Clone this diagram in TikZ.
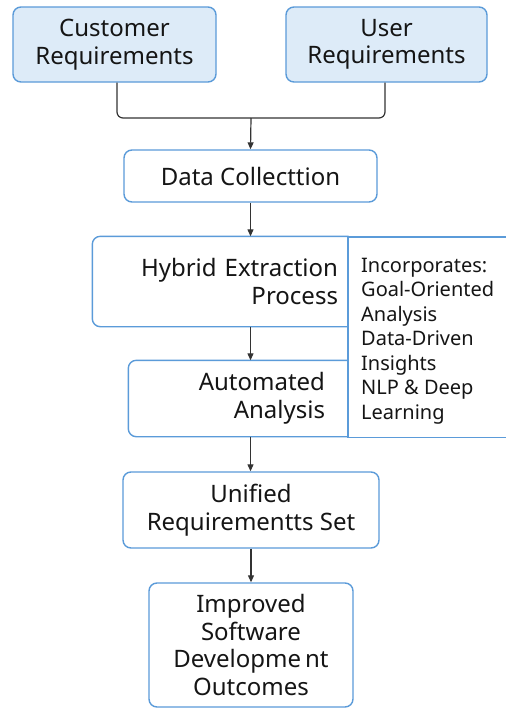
\documentclass[tikz,border=0pt]{standalone}
\usepackage{fontspec}
\setmainfont{Noto Sans}
\usetikzlibrary{arrows.meta}
\definecolor{boxblue}{HTML}{5B9BD9}
\definecolor{boxfill}{HTML}{DDEBF8}
\definecolor{txt}{HTML}{151515}
\definecolor{conn}{HTML}{333333}
\tikzset{
  box/.style={draw=boxblue, line width=1.4pt, rounded corners=8pt, fill=white,
    text=txt, align=center, inner sep=0pt,
    font=\fontsize{24}{27.5}\selectfont},
  topbox/.style={box, fill=boxfill},
  link/.style={draw=conn, line width=1.2pt},
  arrowlink/.style={link, -{Triangle[length=7pt,width=6pt]}},
}
\begin{document}
\begin{tikzpicture}[x=1pt,y=-1pt]
\useasboundingbox (0,0) rectangle (506,710);
\fill[white] (0,0) rectangle (506,710);
% top boxes
\node[topbox, minimum width=203pt, minimum height=75pt] (cust) at (114.5,44.5) {Customer\\Requirements};
\node[topbox, minimum width=201pt, minimum height=75pt] (user) at (386.5,44.5) {User\\Requirements};
\coordinate (join) at (251,118);
\node[box, minimum width=253pt, minimum height=52pt] (data) at (250.5,176) {Data Collecttion};
% side panel
\node[box, rounded corners=0pt, draw=none, fill=none, anchor=north west, minimum width=170pt, minimum height=199pt] (panel) at (348,237) {};
\draw[boxblue, line width=1.4pt] (panel.north east) -- (panel.north west) -- (panel.south west) -- (panel.south east);
\node[anchor=west, inner sep=0pt, text=txt, align=left, font=\fontsize{20}{24.5}\selectfont] (paneltext) at (361,341)
  {Incorporates:\\Goal-Oriented\\Analysis\\Data-Driven\\Insights\\NLP \& Deep\\Learning};
% hybrid and automated
\node[box, draw=none, fill=none, minimum width=255pt, minimum height=89pt, text width=235pt, align=right] (hyb) at (220.5,281.5) {Hybrid Extraction\\Process};
\draw[boxblue, line width=1.4pt, rounded corners=8pt] (hyb.north east) -- (hyb.north west) -- (hyb.south west) -- (hyb.south east);
\node[box, draw=none, fill=none, minimum width=219pt, minimum height=75pt, text width=173pt, align=right] (auto) at (238.5,398.5) {Automated\\Analysis};
\draw[boxblue, line width=1.4pt, rounded corners=8pt] (auto.north east) -- (auto.north west) -- (auto.south west) -- (auto.south east);
% lower boxes
\node[box, minimum width=256pt, minimum height=76pt] (uni) at (251,510) {Unified\\Requirementts Set};
\node[box, minimum width=204pt, minimum height=124pt] (imp) at (251,645) {Improved\\Software\\Developme\,nt\\Outcomes};
% connectors
\draw[link, rounded corners=6pt] ([xshift=2.5pt]cust.south) |- (join) -| ([xshift=-1.5pt]user.south);
\draw[arrowlink] (join) -- (data.north);
\draw[arrowlink] (data.south) -- (data.south |- hyb.north);
\draw[arrowlink] (data.south |- hyb.south) -- (data.south |- auto.north);
\draw[arrowlink] (data.south |- auto.south) -- (data.south |- uni.north);
\draw[arrowlink] (uni.south) -- (imp.north);
\end{tikzpicture}
\end{document}
